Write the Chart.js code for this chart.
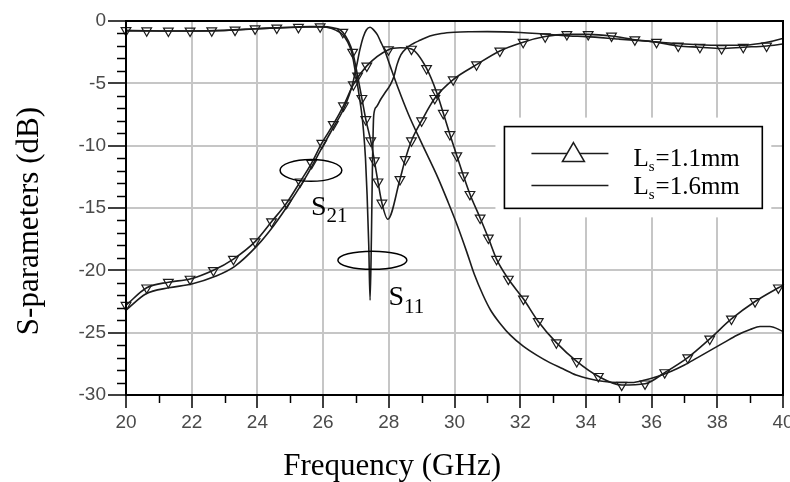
<!DOCTYPE html>
<html>
<head>
<meta charset="utf-8">
<script src="https://cdn.jsdelivr.net/npm/chart.js@4.4.1/dist/chart.umd.min.js"></script>
<style>
html,body{margin:0;padding:0;background:#fff;}
canvas{display:block;}
</style>
</head>
<body>
<canvas id="c" width="790" height="482"></canvas>
<script>
// ---------- axis ticks ----------
const xTickValues = [20, 22, 24, 26, 28, 30, 32, 34, 36, 38, 40];
const yTickValues = [0, -5, -10, -15, -20, -25, -30];
const xMinorTicks = [21, 23, 25, 27, 29, 31, 33, 35, 37, 39];
const yMinorTicks = [-1,-2,-3,-4,-6,-7,-8,-9,-11,-12,-13,-14,-16,-17,-18,-19,-21,-22,-23,-24,-26,-27,-28,-29];

// ---------- series: Ls = 1.6 mm (plain lines) ----------
const s21_16_f  = [20, 20.6, 21.3, 22, 22.7, 23.3, 24, 24.5, 25, 25.5, 26, 26.3, 26.6, 26.8, 26.92, 27.02, 27.12, 27.22, 27.32, 27.43, 27.55, 27.65, 27.75, 27.88, 28.04, 28.3, 28.6, 29.0, 29.5, 29.8, 30.1, 30.37, 30.6, 30.87, 31.1, 31.4, 31.7, 32.1, 32.5, 32.9, 33.3, 33.7, 34.1, 34.5, 35.0, 35.4, 35.8, 36.2, 36.6, 37.0, 37.4, 37.8, 38.2, 38.6, 39.0, 39.3, 39.6, 40];
const s21_16_db = [-23.2, -21.9, -21.4, -21.1, -20.5, -19.7, -18.0, -16.4, -14.5, -12.4, -10.0, -8.6, -7.2, -5.9, -4.8, -3.6, -2.3, -1.3, -0.7, -0.5, -0.75, -1.1, -1.65, -2.4, -3.6, -5.5, -7.5, -9.8, -12.6, -14.5, -16.5, -18.5, -20.3, -22.0, -23.2, -24.3, -25.2, -26.1, -26.8, -27.4, -27.9, -28.4, -28.7, -28.9, -29.0, -29.0, -28.8, -28.5, -28.1, -27.6, -27.0, -26.4, -25.8, -25.2, -24.75, -24.5, -24.5, -24.9];

const s11_16_f  = [20, 21, 22, 23, 24, 25, 25.6, 26.1, 26.4, 26.6, 26.75, 26.87, 26.97, 27.07, 27.17, 27.23, 27.29, 27.34, 27.39, 27.43, 27.47, 27.5, 27.54, 27.62, 27.75, 27.9, 28.05, 28.15, 28.25, 28.37, 28.55, 28.75, 28.95, 29.25, 29.6, 30.0, 30.5, 31.0, 31.5, 32.0, 32.5, 33.0, 33.5, 34.0, 35.0, 36.0, 37.0, 38.0, 38.7, 39.3, 39.7, 40];
const s11_16_db = [-0.8, -0.8, -0.8, -0.75, -0.62, -0.5, -0.45, -0.5, -0.75, -1.1, -1.7, -2.5, -3.9, -5.5, -7.3, -8.8, -11.0, -14.0, -18.0, -22.4, -17.5, -12.0, -7.6, -6.9, -6.3, -5.7, -5.1, -4.5, -3.5, -2.7, -2.15, -1.8, -1.55, -1.2, -1.0, -0.9, -0.86, -0.85, -0.87, -0.92, -1.0, -1.1, -1.2, -1.25, -1.45, -1.65, -1.85, -1.95, -1.95, -1.8, -1.6, -1.4];

// ---------- series: Ls = 1.1 mm (lines with triangle markers) ----------
const s21_11_mark_f  = [20.0, 20.63, 21.29, 21.95, 22.66, 23.27, 23.93, 24.43, 24.89, 25.3, 25.65, 25.96, 26.31, 26.62, 26.92, 27.33, 27.99, 28.69, 29.15, 29.46, 29.66, 29.86, 30.07, 30.27, 30.47, 30.78, 31.03, 31.28, 31.64, 32.1, 32.55, 33.1, 33.72, 34.38, 35.09, 35.8, 36.4, 37.1, 37.77, 38.43, 39.15, 39.86];
const s21_11_mark_db = [-22.8, -21.4, -20.95, -20.7, -20.0, -19.1, -17.7, -16.1, -14.6, -12.9, -11.4, -9.8, -8.3, -6.8, -5.1, -3.6, -2.3, -2.25, -3.8, -5.75, -7.4, -9.1, -10.8, -12.4, -13.9, -15.8, -17.4, -19.1, -20.7, -22.3, -24.1, -25.8, -27.3, -28.5, -29.2, -29.1, -28.2, -27.0, -25.5, -23.9, -22.5, -21.4];
const s21_11_extra_f  = [28.35, 40];
const s21_11_extra_db = [-2.15, -21.2];

const s11_11_mark_f  = [20.0, 20.63, 21.29, 21.95, 22.61, 23.32, 23.93, 24.59, 25.25, 25.91, 26.6, 26.9, 27.05, 27.18, 27.3, 27.45, 27.56, 27.67, 27.79, 28.34, 28.5, 28.69, 29.0, 29.4, 29.96, 30.67, 31.38, 32.09, 32.76, 33.42, 34.07, 34.78, 35.49, 36.15, 36.81, 37.47, 38.13, 38.79, 39.5];
const s11_11_mark_db = [-0.75, -0.78, -0.8, -0.8, -0.78, -0.72, -0.62, -0.55, -0.5, -0.45, -0.9, -2.5, -4.4, -6.2, -7.9, -9.6, -11.2, -12.9, -14.6, -12.7, -11.1, -9.6, -8.0, -6.2, -4.7, -3.5, -2.4, -1.7, -1.25, -1.07, -1.07, -1.2, -1.5, -1.7, -2.0, -2.1, -2.2, -2.1, -2.0];
const s11_11_extra_f  = [26.3, 27.97, 40];
const s11_11_extra_db = [-0.55, -15.9, -1.85];

// ---------- legend / annotation text ----------
const legendLabels = [['L', 's', '=1.1mm'], ['L', 's', '=1.6mm']];
const annotS21 = ['S', '21'];
const annotS11 = ['S', '11'];
const xTitle = 'Frequency (GHz)';
const yTitle = 'S-parameters (dB)';

// ---------- helpers ----------
const pts = (f, d) => f.map((x, i) => ({ x: x, y: d[i] }));
const merged = (f1, d1, f2, d2) => pts(f1, d1).concat(pts(f2, d2)).sort((a, b) => a.x - b.x);

const INK = '#1c1c1c';
const lineBase = {
  borderColor: INK, borderWidth: 1.6, pointRadius: 0, pointHoverRadius: 0,
  cubicInterpolationMode: 'monotone', fill: false
};
const markerBase = {
  showLine: false, pointStyle: 'triangle', rotation: 180, pointRadius: 5.6,
  pointBorderColor: INK, pointBorderWidth: 1.2, pointBackgroundColor: 'rgba(255,255,255,0)',
  borderColor: INK, clip: false
};

const SERIF = '"Liberation Serif", "Times New Roman", serif';
const SANS = '"Liberation Sans", Arial, sans-serif';

function subText(ctx, x, y, main, sub, rest, sMain, sSub, dy) {
  ctx.font = sMain + 'px ' + SERIF;
  ctx.fillText(main, x, y);
  let w = ctx.measureText(main).width;
  ctx.font = sSub + 'px ' + SERIF;
  ctx.fillText(sub, x + w, y + dy);
  w += ctx.measureText(sub).width;
  if (rest) {
    ctx.font = sMain + 'px ' + SERIF;
    ctx.fillText(rest, x + w + 1, y);
  }
}

const extras = {
  id: 'extras',
  afterDatasetsDraw(chart) {
    const { ctx, chartArea: a, scales: { x, y } } = chart;
    ctx.save();
    ctx.strokeStyle = '#000';
    ctx.fillStyle = '#000';

    // minor ticks
    ctx.lineWidth = 1.5;
    xMinorTicks.forEach(v => {
      const px = Math.round(x.getPixelForValue(v)) + 0.5;
      ctx.beginPath(); ctx.moveTo(px, a.bottom); ctx.lineTo(px, a.bottom + 8); ctx.stroke();
    });
    yMinorTicks.forEach(v => {
      const py = Math.round(y.getPixelForValue(v)) + 0.5;
      ctx.beginPath(); ctx.moveTo(a.left - 9, py); ctx.lineTo(a.left, py); ctx.stroke();
    });

    // frame
    ctx.lineWidth = 2;
    ctx.strokeRect(a.left, a.top, a.right - a.left, a.bottom - a.top);

    // ellipses
    ctx.lineWidth = 1.5;
    const ell = (cx, cy, rx, ry) => {
      const px = x.getPixelForValue(cx), py = y.getPixelForValue(cy);
      const rpx = Math.abs(x.getPixelForValue(cx + rx) - px);
      const rpy = Math.abs(y.getPixelForValue(cy + ry) - py);
      ctx.beginPath(); ctx.ellipse(px, py, rpx, rpy, 0, 0, Math.PI * 2); ctx.stroke();
    };
    ell(25.63, -11.98, 0.94, 0.88);
    ell(27.5, -19.19, 1.05, 0.73);

    // S21 / S11 labels
    ctx.textBaseline = 'alphabetic';
    ctx.textAlign = 'left';
    subText(ctx, x.getPixelForValue(25.63), y.getPixelForValue(-15.55), annotS21[0], annotS21[1], '', 28, 21, 7);
    subText(ctx, x.getPixelForValue(27.99), y.getPixelForValue(-22.78), annotS11[0], annotS11[1], '', 28, 21, 8);

    // legend
    const L = x.getPixelForValue(31.52), R = x.getPixelForValue(39.37);
    const T = y.getPixelForValue(-8.47), B = y.getPixelForValue(-15.03);
    ctx.fillStyle = '#fff';
    ctx.fillRect(L - 9, T - 9, R - L + 18, B - T + 18);
    ctx.fillStyle = '#000';
    ctx.lineWidth = 1.6;
    ctx.strokeRect(L, T, R - L, B - T);
    const h = B - T;
    const row1 = T + h * 0.33, row2 = T + h * 0.72;
    ctx.lineWidth = 1.5;
    ctx.strokeStyle = INK;
    [row1, row2].forEach(ry => {
      ctx.beginPath(); ctx.moveTo(L + 27, ry); ctx.lineTo(L + 104, ry); ctx.stroke();
    });
    // outline triangle marker for Ls=1.1
    const tx = L + 69;
    ctx.beginPath();
    ctx.moveTo(tx, row1 - 11); ctx.lineTo(tx + 11, row1 + 8); ctx.lineTo(tx - 11, row1 + 8); ctx.closePath();
    ctx.fillStyle = '#fff'; ctx.fill(); ctx.stroke();
    ctx.fillStyle = '#000';
    subText(ctx, L + 129, row1 + 12.5, legendLabels[0][0], legendLabels[0][1], legendLabels[0][2], 25, 15, 5);
    subText(ctx, L + 129, row2 + 8.5, legendLabels[1][0], legendLabels[1][1], legendLabels[1][2], 25, 15, 5);

    // axis titles
    ctx.font = '31px ' + SERIF;
    ctx.textAlign = 'center';
    ctx.textBaseline = 'alphabetic';
    ctx.fillText(xTitle, x.getPixelForValue(28.1), 475);
    ctx.save();
    ctx.translate(38, y.getPixelForValue(-16.05));
    ctx.rotate(-Math.PI / 2);
    ctx.fillText(yTitle, 0, 0);
    ctx.restore();

    ctx.restore();
  }
};

new Chart(document.getElementById('c'), {
  type: 'line',
  data: {
    datasets: [
      Object.assign({ label: 'S21 Ls=1.6mm', data: pts(s21_16_f, s21_16_db) }, lineBase),
      Object.assign({ label: 'S11 Ls=1.6mm', data: pts(s11_16_f, s11_16_db) }, lineBase),
      Object.assign({ label: 'S21 Ls=1.1mm', data: merged(s21_11_mark_f, s21_11_mark_db, s21_11_extra_f, s21_11_extra_db) }, lineBase),
      Object.assign({ label: 'S11 Ls=1.1mm', data: merged(s11_11_mark_f, s11_11_mark_db, s11_11_extra_f, s11_11_extra_db) }, lineBase),
      Object.assign({ label: 'S21 Ls=1.1mm markers', data: pts(s21_11_mark_f, s21_11_mark_db) }, markerBase),
      Object.assign({ label: 'S11 Ls=1.1mm markers', data: pts(s11_11_mark_f, s11_11_mark_db) }, markerBase)
    ]
  },
  options: {
    responsive: false,
    animation: false,
    devicePixelRatio: 1,
    layout: { padding: { top: 21, right: 7, bottom: 0, left: 0 } },
    plugins: { legend: { display: false }, tooltip: { enabled: false } },
    events: [],
    scales: {
      x: {
        type: 'linear', min: 20, max: 40,
        afterBuildTicks: s => { s.ticks = xTickValues.map(v => ({ value: v })); },
        ticks: { font: { family: SANS, size: 19 }, color: '#4a4a4a', padding: 3, maxRotation: 0, autoSkip: false, callback: v => String(v) },
        grid: { color: '#c6c6c6', lineWidth: 2, tickColor: '#000', tickLength: 13, tickWidth: 1.5 },
        border: { color: '#000', width: 2 },
        afterFit: s => { s.height = 87; s.paddingLeft = 0; s.paddingRight = 0; }
      },
      y: {
        type: 'linear', min: -30, max: 0,
        afterBuildTicks: s => { s.ticks = yTickValues.map(v => ({ value: v })); },
        ticks: { font: { family: SANS, size: 19 }, color: '#4a4a4a', padding: 2, autoSkip: false, callback: v => String(v) },
        grid: { color: '#c6c6c6', lineWidth: 2, tickColor: '#000', tickLength: 18, tickWidth: 1.5 },
        border: { color: '#000', width: 2 },
        afterFit: s => { s.width = 126; s.paddingTop = 0; s.paddingBottom = 0; }
      }
    }
  },
  plugins: [extras]
});
</script>
</body>
</html>
